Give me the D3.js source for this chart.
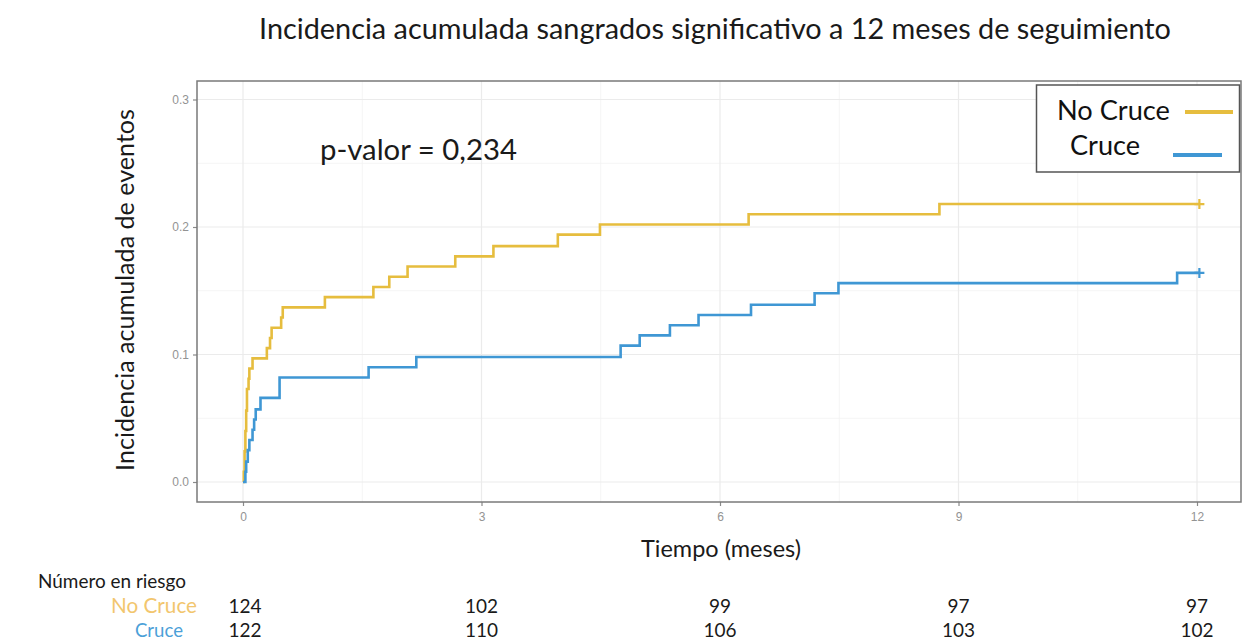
<!DOCTYPE html>
<html>
<head>
<meta charset="utf-8">
<script src="https://cdn.jsdelivr.net/npm/d3@7"></script>
<style>
  html, body { margin: 0; padding: 0; background: #ffffff; }
  svg { display: block; }
</style>
</head>
<body>
<svg id="chart" width="1243" height="643"></svg>
<script>
// Cumulative incidence of significant bleeding, 12-month follow-up
const groups = ["No Cruce", "Cruce"];
const groupColors = ["#E6BD3E", "#3F97D4"];

// Step times (months) and cumulative incidence for each group
const noCruceTime = [0, 0.01, 0.02, 0.03, 0.04, 0.05, 0.07, 0.08, 0.12, 0.30, 0.34, 0.36, 0.48, 0.50, 1.03, 1.64, 1.84, 2.07, 2.67, 3.15, 3.96, 4.49, 6.36, 8.76, 12.03];
const noCruceInc  = [0, 0.008, 0.024, 0.040, 0.056, 0.073, 0.081, 0.089, 0.097, 0.105, 0.113, 0.121, 0.129, 0.137, 0.145, 0.153, 0.161, 0.169, 0.177, 0.185, 0.194, 0.202, 0.210, 0.218, 0.218];
const cruceTime = [0, 0.03, 0.04, 0.06, 0.08, 0.12, 0.14, 0.16, 0.22, 0.46, 1.58, 2.18, 4.75, 4.99, 5.37, 5.73, 6.39, 7.19, 7.49, 11.75, 12.03];
const cruceInc  = [0, 0.008, 0.016, 0.025, 0.033, 0.041, 0.049, 0.057, 0.066, 0.082, 0.090, 0.098, 0.107, 0.115, 0.123, 0.131, 0.139, 0.148, 0.156, 0.164, 0.164];

// Axis ticks
const xTicks = [0, 3, 6, 9, 12];
const xMinorTicks = [1.5, 4.5, 7.5, 10.5];
const yTicks = [0, 0.1, 0.2, 0.3];
const yMinorTicks = [0.05, 0.15, 0.25];

// Numbers at risk at each x tick
const atRiskNoCruce = [124, 102, 99, 97, 97];
const atRiskCruce   = [122, 110, 106, 103, 102];

const titleText = "Incidencia acumulada sangrados significativo a 12 meses de seguimiento";
const pValueText = "p-valor = 0,234";

const svg = d3.select("#chart");
const textFont = "Lato, 'Open Sans', sans-serif";
const tickFont = "'Liberation Sans', Arial, sans-serif";

// Panel geometry
const panel = { left: 197, top: 81, right: 1241, bottom: 502 };
const x = d3.scaleLinear().domain([0, 12]).range([243, 1197]);
const y = d3.scaleLinear().domain([0, 0.3]).range([482, 99.5]);

// Scale a text element's font size so it spans a given width
function fitWidth(sel, width) {
  const w = sel.node().getComputedTextLength();
  const fs = parseFloat(sel.attr("font-size"));
  sel.attr("font-size", (fs * width / w).toFixed(2));
  return sel;
}

// Title
fitWidth(svg.append("text")
  .attr("x", 715).attr("y", 39)
  .attr("text-anchor", "middle")
  .attr("font-family", textFont).attr("font-size", 26)
  .attr("fill", "#1a1a1a")
  .text(titleText), 912);

// Grid lines
const grid = svg.append("g");
grid.selectAll(".gxm").data(xMinorTicks).join("line")
  .attr("x1", d => x(d)).attr("x2", d => x(d))
  .attr("y1", panel.top).attr("y2", panel.bottom)
  .attr("stroke", "#f3f3f3").attr("stroke-width", 0.8);
grid.selectAll(".gym").data(yMinorTicks).join("line")
  .attr("y1", d => y(d)).attr("y2", d => y(d))
  .attr("x1", panel.left).attr("x2", panel.right)
  .attr("stroke", "#f3f3f3").attr("stroke-width", 0.8);
grid.selectAll(".gx").data(xTicks).join("line")
  .attr("x1", d => x(d)).attr("x2", d => x(d))
  .attr("y1", panel.top).attr("y2", panel.bottom)
  .attr("stroke", "#ebebeb").attr("stroke-width", 1.2);
grid.selectAll(".gy").data(yTicks).join("line")
  .attr("y1", d => y(d)).attr("y2", d => y(d))
  .attr("x1", panel.left).attr("x2", panel.right)
  .attr("stroke", "#ebebeb").attr("stroke-width", 1.2);

// Axes
const yAxis = svg.append("g")
  .attr("transform", `translate(${panel.left},0)`)
  .call(d3.axisLeft(y).tickValues(yTicks).tickFormat(d3.format(".1f")).tickSize(4).tickPadding(4));
const xAxis = svg.append("g")
  .attr("transform", `translate(0,${panel.bottom})`)
  .call(d3.axisBottom(x).tickValues(xTicks).tickFormat(d3.format("d")).tickSize(4).tickPadding(6));
[yAxis, xAxis].forEach(a => {
  a.select(".domain").remove();
  a.selectAll(".tick line").attr("stroke", "#8a8a8a").attr("stroke-width", 1.2);
  a.selectAll(".tick text").attr("fill", "#939393")
    .attr("font-family", tickFont).attr("font-size", 12);
});

// Step curves
const series = [
  { name: groups[0], color: groupColors[0], pts: noCruceTime.map((t, i) => [t, noCruceInc[i]]) },
  { name: groups[1], color: groupColors[1], pts: cruceTime.map((t, i) => [t, cruceInc[i]]) }
];
const stepLine = d3.line()
  .x(d => x(d[0])).y(d => y(d[1]))
  .curve(d3.curveStepAfter);

const curves = svg.append("g");
curves.selectAll("path").data(series).join("path")
  .attr("d", d => stepLine(d.pts))
  .attr("fill", "none")
  .attr("stroke", d => d.color)
  .attr("stroke-width", 2.6)
  .attr("stroke-linejoin", "miter");

// Censoring marks at the end of follow-up
const cens = svg.append("g");
series.forEach(s => {
  const last = s.pts[s.pts.length - 1];
  const cx = x(last[0]), cy = y(last[1]);
  cens.append("path")
    .attr("d", `M${cx - 5},${cy}H${cx + 5}M${cx},${cy - 5}V${cy + 5}`)
    .attr("stroke", s.color).attr("stroke-width", 2.2).attr("fill", "none");
});

// Panel border
svg.append("rect")
  .attr("x", panel.left).attr("y", panel.top)
  .attr("width", panel.right - panel.left).attr("height", panel.bottom - panel.top)
  .attr("fill", "none").attr("stroke", "#7a7a7a").attr("stroke-width", 1.5);

// p-value annotation
fitWidth(svg.append("text")
  .attr("x", 320).attr("y", 160)
  .attr("font-family", textFont).attr("font-size", 22)
  .attr("fill", "#1a1a1a")
  .text(pValueText), 197);

// Legend
const legend = svg.append("g");
legend.append("rect")
  .attr("x", 1036.5).attr("y", 85).attr("width", 203).attr("height", 87)
  .attr("fill", "#ffffff").attr("stroke", "#555555").attr("stroke-width", 1.5);
const legendRows = [
  { label: groups[0], color: groupColors[0], tx: 1057, ty: 120, lx1: 1185, lx2: 1233, ly: 112, w: 113 },
  { label: groups[1], color: groupColors[1], tx: 1070, ty: 155, lx1: 1173, lx2: 1222, ly: 155, w: 70 }
];
legendRows.forEach(r => {
  fitWidth(legend.append("text")
    .attr("x", r.tx).attr("y", r.ty)
    .attr("font-family", textFont).attr("font-size", 24)
    .attr("fill", "#111111")
    .text(r.label), r.w);
  legend.append("line")
    .attr("x1", r.lx1).attr("x2", r.lx2).attr("y1", r.ly).attr("y2", r.ly)
    .attr("stroke", r.color).attr("stroke-width", 4);
});

// Axis titles
fitWidth(svg.append("text")
  .attr("transform", "translate(134,290) rotate(-90)")
  .attr("text-anchor", "middle")
  .attr("font-family", textFont).attr("font-size", 20)
  .attr("fill", "#1a1a1a")
  .text("Incidencia acumulada de eventos"), 362);

fitWidth(svg.append("text")
  .attr("x", 721).attr("y", 557)
  .attr("text-anchor", "middle")
  .attr("font-family", textFont).attr("font-size", 18)
  .attr("fill", "#1a1a1a")
  .text("Tiempo (meses)"), 160);

// Number-at-risk table
fitWidth(svg.append("text")
  .attr("x", 38).attr("y", 588)
  .attr("font-family", textFont).attr("font-size", 19)
  .attr("fill", "#1a1a1a")
  .text("Número en riesgo"), 148);

const riskRows = [
  { label: groups[0], color: "#F2C66E", values: atRiskNoCruce, ty: 613, right: 197, width: 86 },
  { label: groups[1], color: "#4BA0D8", values: atRiskCruce, ty: 637, right: 183, width: 48 }
];
riskRows.forEach(r => {
  fitWidth(svg.append("text")
    .attr("x", r.right).attr("y", r.ty)
    .attr("text-anchor", "end")
    .attr("font-family", textFont).attr("font-size", 18)
    .attr("fill", r.color)
    .text(r.label), r.width);
  svg.append("g").selectAll("text").data(r.values).join("text")
    .attr("x", (d, i) => x(xTicks[i]) + (i === 0 ? 2 : 0))
    .attr("y", r.ty)
    .attr("text-anchor", "middle")
    .attr("font-family", textFont).attr("font-size", 19)
    .attr("fill", "#1a1a1a")
    .text(d => d);
});
</script>
</body>
</html>
